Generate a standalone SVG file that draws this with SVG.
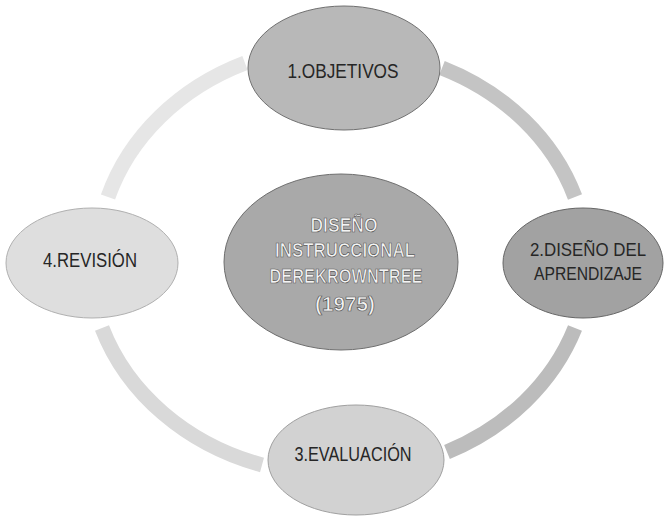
<svg xmlns="http://www.w3.org/2000/svg" width="665" height="517" viewBox="0 0 665 517">
<style>
  .arc { fill: none; stroke-width: 15; stroke-linecap: butt; }
  .lbl { font-family: "Liberation Sans", Arial, sans-serif; font-size: 20px; fill: #262626; text-anchor: middle; }
  .sm { font-size: 18px; }
  .ctr { font-family: "Liberation Sans", Arial, sans-serif; font-size: 20px; font-weight: bold; fill: #f4f4f4; stroke: #5a5a5a; stroke-width: 0.7; text-anchor: middle; }
</style>
<rect width="665" height="517" fill="#ffffff"/>
<g id="connectors">
  <path class="arc" d="M442,68 A246,216 0 0,1 575,197" stroke="#c4c4c4"/>
  <path class="arc" d="M575,328 A246,216 0 0,1 447,452" stroke="#bcbcbc"/>
  <path class="arc" d="M262,465 A246,216 0 0,1 102,328" stroke="#d9d9d9"/>
  <path class="arc" d="M108,197 A246,216 0 0,1 245,63" stroke="#e6e6e6"/>
</g>
<g id="center">
  <ellipse cx="341" cy="262" rx="117" ry="88" fill="#a9a9a9" stroke="#6e6e6e" stroke-width="1"/>
  <text class="ctr" x="344" y="232" textLength="67" lengthAdjust="spacingAndGlyphs">DISEÑO</text>
  <text class="ctr" x="345" y="257" textLength="140" lengthAdjust="spacingAndGlyphs">INSTRUCCIONAL</text>
  <text class="ctr" x="346" y="283" textLength="153" lengthAdjust="spacingAndGlyphs">DEREKROWNTREE</text>
  <text class="ctr" x="345" y="311" textLength="60" lengthAdjust="spacingAndGlyphs">(1975)</text>
</g>
<g id="n1">
  <ellipse cx="344" cy="68" rx="96" ry="62" fill="#b8b8b8" stroke="#707070" stroke-width="1"/>
  <text class="lbl" x="343" y="78" textLength="111" lengthAdjust="spacingAndGlyphs">1.OBJETIVOS</text>
</g>
<g id="n2">
  <ellipse cx="583" cy="263" rx="80" ry="55" fill="#a2a2a2" stroke="#666666" stroke-width="1"/>
  <text class="lbl sm" x="588" y="256" textLength="116" lengthAdjust="spacingAndGlyphs">2.DISEÑO DEL</text>
  <text class="lbl sm" x="588" y="280" textLength="108" lengthAdjust="spacingAndGlyphs">APRENDIZAJE</text>
</g>
<g id="n3">
  <ellipse cx="356" cy="460" rx="88" ry="55" fill="#d2d2d2" stroke="#a0a0a0" stroke-width="1"/>
  <text class="lbl" x="353" y="461" textLength="117" lengthAdjust="spacingAndGlyphs">3.EVALUACIÓN</text>
</g>
<g id="n4">
  <ellipse cx="92" cy="263" rx="86" ry="55" fill="#dedede" stroke="#b0b0b0" stroke-width="1"/>
  <text class="lbl" x="90" y="267" textLength="94" lengthAdjust="spacingAndGlyphs">4.REVISIÓN</text>
</g>
</svg>
